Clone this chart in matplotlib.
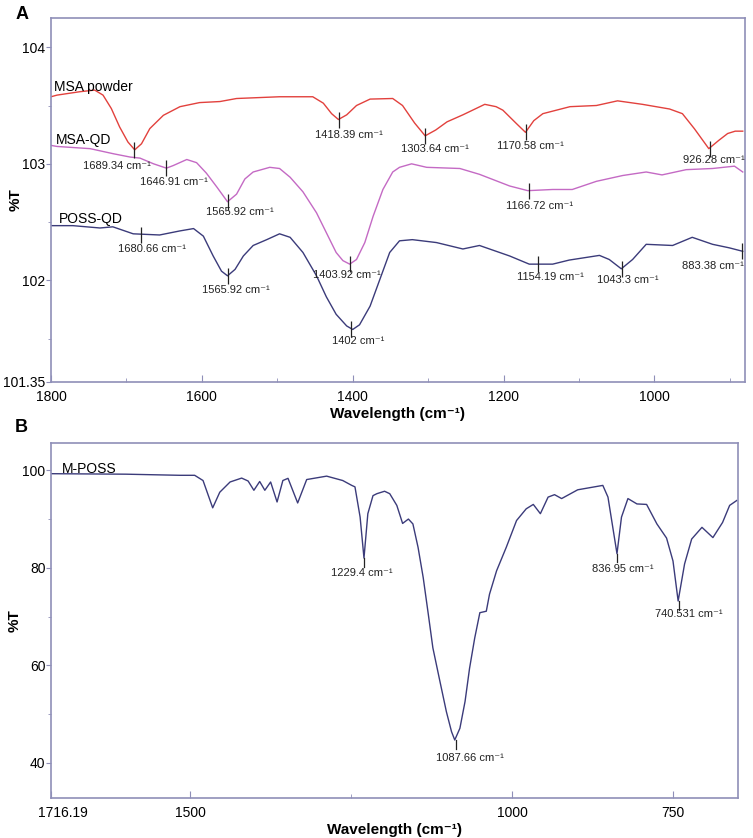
import matplotlib
matplotlib.use("Agg")
import matplotlib.pyplot as plt
from matplotlib.ticker import FixedLocator
from matplotlib.transforms import ScaledTranslation

plt.rcParams["font.family"] = ["Liberation Sans", "DejaVu Sans"]

# ---- panel A data (wavenumber, %T) ----
msa_wn = [1800, 1792, 1762, 1742, 1731, 1720, 1709, 1698, 1689, 1680, 1669, 1651,
          1629, 1603, 1576, 1554, 1497, 1453, 1439, 1428, 1419, 1408, 1395, 1377,
          1347, 1334, 1318, 1304, 1290, 1275, 1254, 1225, 1210, 1201, 1183, 1171,
          1160, 1148, 1112, 1077, 1049, 1016, 980, 963, 947, 928, 915, 903, 893, 883]
msa_t = [103.575, 103.589, 103.618, 103.632, 103.589, 103.474, 103.316, 103.187, 103.12,
         103.172, 103.302, 103.416, 103.49, 103.525, 103.534, 103.56, 103.575, 103.575,
         103.52, 103.43, 103.38, 103.42, 103.50, 103.555, 103.56, 103.50, 103.35, 103.24,
         103.29, 103.36, 103.42, 103.51, 103.49, 103.46, 103.345, 103.27, 103.37, 103.43,
         103.49, 103.50, 103.54, 103.51, 103.47, 103.43, 103.30, 103.13, 103.20, 103.26,
         103.28, 103.28]

msaqd_wn = [1800, 1792, 1748, 1717, 1695, 1682, 1664, 1647, 1638, 1620, 1607, 1594,
            1580, 1566, 1554, 1543, 1532, 1510, 1497, 1483, 1466, 1448, 1435, 1422,
            1413, 1404, 1395, 1384, 1373, 1360, 1347, 1338, 1322, 1302, 1258, 1232,
            1192, 1168, 1135, 1109, 1077, 1042, 1011, 990, 958, 923, 894, 883]
msaqd_t = [103.158, 103.149, 103.13, 103.086, 103.058, 103.049, 103.0, 102.963, 102.985,
           103.037, 103.01, 102.92, 102.80, 102.675, 102.74, 102.87, 102.93, 102.97, 102.96,
           102.885, 102.76, 102.58, 102.41, 102.24, 102.17, 102.14, 102.18, 102.325, 102.55,
           102.78, 102.93, 102.97, 103.0, 102.97, 102.96, 102.91, 102.81, 102.77, 102.78,
           102.78, 102.85, 102.90, 102.93, 102.905, 102.95, 102.96, 102.98, 102.93]

possqd_wn = [1800, 1771, 1735, 1718, 1691, 1656, 1629, 1611, 1598, 1585, 1574, 1566,
             1556, 1545, 1532, 1514, 1497, 1483, 1466, 1448, 1435, 1422, 1408, 1400,
             1391, 1377, 1364, 1351, 1338, 1321, 1289, 1254, 1232, 1192, 1166, 1135,
             1113, 1073, 1060, 1044, 1029, 1011, 976, 950, 923, 901, 883]
possqd_t = [102.47, 102.47, 102.45, 102.46, 102.40, 102.39, 102.425, 102.445, 102.38, 102.21,
            102.08, 102.04, 102.095, 102.21, 102.30, 102.35, 102.40, 102.37, 102.24, 102.04,
            101.86, 101.71, 101.61, 101.58, 101.62, 101.78, 102.01, 102.24, 102.34, 102.35,
            102.325, 102.27, 102.30, 102.21, 102.14, 102.14, 102.175, 102.215, 102.18, 102.10,
            102.18, 102.31, 102.30, 102.37, 102.31, 102.28, 102.25]

msa_peaks = [1689.34, 1418.39, 1303.64, 1170.58, 926.28]
msa_peak_t = [103.12, 103.38, 103.24, 103.27, 103.13]
msaqd_peaks = [1646.91, 1565.92, 1403.92, 1166.72]
msaqd_peak_t = [102.963, 102.675, 102.14, 102.77]
possqd_peaks = [1680.66, 1565.92, 1402, 1154.19, 1043.3, 883.38]
possqd_peak_t = [102.39, 102.04, 101.58, 102.14, 102.10, 102.25]

# ---- panel B data ----
mposs_wn = [1716, 1600, 1516, 1493, 1480, 1465, 1454, 1438, 1420, 1410, 1401, 1392,
            1384, 1375, 1365, 1356, 1348, 1333, 1319, 1288, 1263, 1249, 1244, 1236,
            1230, 1224, 1216, 1210, 1198, 1190, 1179, 1170, 1161, 1154, 1146, 1138,
            1130, 1123, 1112, 1102, 1094, 1089, 1081, 1073, 1066, 1058, 1050, 1040,
            1035, 1024, 1009, 993, 978, 967, 956, 944, 934, 923, 898, 859, 851, 837,
            830, 820, 806, 791, 775, 760, 750, 742, 732, 721, 705, 688, 673, 662, 651]
mposs_t = [99.3, 99.2, 98.97, 98.97, 97.9, 92.3, 95.5, 97.6, 98.4, 97.8, 95.9, 97.7,
           95.9, 97.6, 93.5, 97.9, 98.35, 93.3, 98.1, 98.8, 97.9, 96.9, 96.6, 90.4,
           82.0, 91.1, 94.8, 95.2, 95.7, 95.2, 92.8, 89.1, 90.0, 89.0, 84.2, 78.0,
           70.4, 63.6, 56.7, 50.5, 46.4, 44.7, 47.1, 52.6, 59.4, 65.6, 70.8, 71.1,
           74.6, 79.4, 84.2, 89.7, 92.1, 93.0, 91.1, 94.5, 95.0, 94.2, 96.0, 96.9, 94.5, 82.9,
           90.4, 94.2, 93.1, 93.0, 89.0, 86.1, 81.4, 73.2, 80.8, 85.9, 88.3, 86.2, 89.3,
           92.8, 93.8]
mposs_peaks = [1229.4, 1087.66, 836.95, 740.531]
mposs_peak_t = [82.0, 44.7, 82.9, 73.2]

# label offsets (pixels, right/down from the peak)
msa_off = [(-18, 16), (10, 15), (10, 13), (5, 14), (4, 11)]
msaqd_off = [(7, 14), (12, 10), (-3, 11), (11, 15)]
possqd_off = [(11, 14), (8, 14), (7, 12), (12, 13), (6, 11), (-30, 15)]
mposs_off = [(-3, 15), (14, 18), (6, 15), (10, 13)]

SPINE = "#8f8fb8"
RED = "#e2413d"
MAG = "#c46ac4"
NAVY = "#3b3b7a"


def style_axes(ax):
    for s in ax.spines.values():
        s.set_color(SPINE)
        s.set_linewidth(1.2)
    ax.tick_params(axis="x", which="both", direction="in", color=SPINE, labelsize=10, pad=6)
    ax.tick_params(axis="x", which="major", length=5)
    ax.tick_params(axis="x", which="minor", length=3)
    ax.tick_params(axis="y", which="both", direction="out", color=SPINE, labelsize=10, pad=0.5)
    ax.tick_params(axis="y", which="major", length=3.5)
    ax.tick_params(axis="y", which="minor", length=2.5)


def label_peaks(ax, peaks, ts, offs, fs=8):
    for wn, t, (dx, dy) in zip(peaks, ts, offs):
        ax.annotate(f"{wn:g} cm\u207b\u00b9", xy=(wn, t), xytext=(dx * 0.72, -dy * 0.72),
                    textcoords="offset points", ha="center", va="center", fontsize=fs,
                    color="#222222")


fig = plt.figure(figsize=(7.53, 8.38), dpi=100)

# ---------- A ----------
ax = fig.add_axes([0.0677, 0.5442, 0.9217, 0.4343])
ax.plot(msa_wn, msa_t, color=RED, lw=1)
ax.plot(msaqd_wn, msaqd_t, color=MAG, lw=1)
ax.plot(possqd_wn, possqd_t, color=NAVY, lw=1)
for peaks, ts in [(msa_peaks, msa_peak_t), (msaqd_peaks, msaqd_peak_t), (possqd_peaks, possqd_peak_t)]:
    ax.plot(peaks, ts, ls="none", marker="|", ms=11, mew=0.9, color="#222222")
label_peaks(ax, msa_peaks, msa_peak_t, msa_off)
label_peaks(ax, msaqd_peaks, msaqd_peak_t, msaqd_off)
label_peaks(ax, possqd_peaks, possqd_peak_t, possqd_off)
ax.text(1796, 103.60, "MSA powder", fontsize=10, va="bottom")
ax.text(1793, 103.14, "MSA-QD", fontsize=10, va="bottom")
ax.text(1790, 102.47, "POSS-QD", fontsize=10, va="bottom")
ax.set_xlim(1800, 880)
ax.set_ylim(101.13, 104.25)
ax.set_xticks([1800, 1600, 1400, 1200, 1000])
ax.xaxis.set_minor_locator(FixedLocator([1700, 1500, 1300, 1100, 900]))
ax.set_yticks([101.13, 102, 103, 104])
ax.set_yticklabels(["101.35", "102", "103", "104"])
ax.yaxis.set_minor_locator(FixedLocator([101.5, 102.5, 103.5]))
style_axes(ax)
ax.set_xlabel("Wavelength (cm\u207b\u00b9)", fontsize=11, fontweight="bold", labelpad=2)
ax.set_ylabel("%T", fontsize=11, fontweight="bold")
ax.yaxis.set_label_coords(-0.041, 0.5)
fig.text(0.02, 0.983, "A", fontsize=13, fontweight="bold", va="center")

# ---------- B ----------
bx = fig.add_axes([0.0677, 0.0477, 0.9124, 0.4237])
bx.plot(mposs_wn, mposs_t, color=NAVY, lw=1)
for wn, t in zip(mposs_peaks, mposs_peak_t):
    bx.plot([wn, wn], [t, t - 1.8], color="#222222", lw=0.9)
label_peaks(bx, mposs_peaks, mposs_peak_t, mposs_off)
bx.text(1700, 98.8, "M-POSS", fontsize=10, va="bottom")
bx.set_xlim(1716.19, 649)
bx.set_ylim(32.8, 105.6)
bx.set_xticks([1716.19, 1500, 1000, 750])
bx.set_xticklabels(["1716.19", "1500", "1000", "750"])
bx.xaxis.set_minor_locator(FixedLocator([1250]))
bx.set_yticks([40, 60, 80, 100])
bx.yaxis.set_minor_locator(FixedLocator([50, 70, 90]))
style_axes(bx)
first = bx.get_xticklabels()[0]
first.set_transform(first.get_transform() + ScaledTranslation(0.12, 0, fig.dpi_scale_trans))
bx.set_xlabel("Wavelength (cm\u207b\u00b9)", fontsize=11, fontweight="bold", labelpad=2)
bx.set_ylabel("%T", fontsize=11, fontweight="bold")
bx.yaxis.set_label_coords(-0.042, 0.5)
fig.text(0.02, 0.490, "B", fontsize=13, fontweight="bold", va="center")

fig.savefig("out.png", dpi=100)
